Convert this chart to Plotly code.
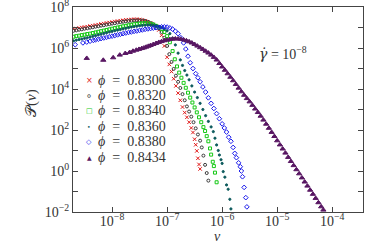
import plotly.graph_objects as go

# ---------------- data ((log10 v, log10 P)) ----------------
phi_labels = ["0.8300", "0.8320", "0.8340", "0.8360", "0.8380", "0.8434"]

phi_0830 = [(-8.70,6.93),(-8.65,6.95),(-8.60,6.97),(-8.55,7.00),(-8.50,7.02),(-8.45,7.04),(-8.40,7.07),
            (-8.35,7.09),(-8.30,7.12),(-8.25,7.14),(-8.20,7.17),(-8.15,7.19),(-8.10,7.22),(-8.05,7.24),
            (-8.00,7.26),(-7.95,7.29),(-7.90,7.31),(-7.85,7.33),(-7.80,7.35),(-7.75,7.37),(-7.70,7.38),
            (-7.65,7.39),(-7.60,7.40),(-7.55,7.40),(-7.50,7.39),(-7.45,7.37),(-7.40,7.33),(-7.35,7.28),
            (-7.30,7.22),(-7.25,7.14),(-7.20,7.05),(-7.15,6.88),(-7.10,6.62),(-7.05,6.10),(-7.00,5.55),
            (-6.96,5.20),(-6.92,4.85),(-6.88,4.50),(-6.84,4.15),(-6.80,3.80),(-6.76,3.45),(-6.72,3.12),
            (-6.68,2.85),(-6.64,2.62),(-6.60,2.38),(-6.56,2.10),(-6.53,1.88),(-6.50,1.55),(-6.48,1.28),
            (-6.46,0.98),(-6.44,0.62),(-6.42,0.32),(-6.40,0.10)]

phi_0832 = [(-8.70,6.84),(-8.65,6.86),(-8.60,6.89),(-8.55,6.91),(-8.50,6.94),(-8.45,6.96),(-8.40,6.99),
            (-8.35,7.01),(-8.30,7.04),(-8.25,7.06),(-8.20,7.09),(-8.15,7.11),(-8.10,7.14),(-8.05,7.16),
            (-8.00,7.19),(-7.95,7.21),(-7.90,7.24),(-7.85,7.26),(-7.80,7.28),(-7.75,7.30),(-7.70,7.32),
            (-7.65,7.33),(-7.60,7.34),(-7.55,7.35),(-7.50,7.35),(-7.45,7.34),(-7.40,7.32),(-7.35,7.28),
            (-7.30,7.22),(-7.25,7.16),(-7.20,7.08),(-7.15,6.96),(-7.10,6.78),(-7.05,6.50),(-7.00,6.10),
            (-6.96,5.70),(-6.92,5.32),(-6.88,4.98),(-6.84,4.65),(-6.80,4.35),(-6.76,4.05),(-6.72,3.75),
            (-6.68,3.45),(-6.64,3.15),(-6.60,2.90),(-6.56,2.65),(-6.52,2.38),(-6.48,2.08),(-6.44,1.78),
            (-6.40,1.48),(-6.37,1.15),(-6.34,0.75),(-6.31,0.30),(-6.28,-0.10),(-6.25,-0.47)]

phi_0834 = [(-8.70,6.55),(-8.65,6.58),(-8.60,6.60),(-8.55,6.63),(-8.50,6.65),(-8.45,6.68),(-8.40,6.70),
            (-8.35,6.73),(-8.30,6.76),(-8.25,6.79),(-8.20,6.82),(-8.15,6.85),(-8.10,6.88),(-8.05,6.91),
            (-8.00,6.94),(-7.95,6.97),(-7.90,7.00),(-7.85,7.03),(-7.80,7.06),(-7.75,7.08),(-7.70,7.11),
            (-7.65,7.13),(-7.60,7.16),(-7.55,7.17),(-7.50,7.19),(-7.45,7.20),(-7.40,7.21),(-7.35,7.20),
            (-7.30,7.18),(-7.25,7.14),(-7.20,7.08),(-7.15,7.01),(-7.10,6.92),(-7.05,6.78),(-7.00,6.58),
            (-6.95,6.28),(-6.90,5.85),(-6.86,5.45),(-6.82,5.10),(-6.78,4.80),(-6.74,4.55),(-6.70,4.30),
            (-6.66,4.06),(-6.62,3.82),(-6.58,3.58),(-6.54,3.34),(-6.50,3.10),(-6.46,2.86),(-6.42,2.62),
            (-6.38,2.38),(-6.34,2.14),(-6.31,1.95),(-6.28,1.70),(-6.25,1.45),(-6.22,1.10),(-6.20,0.80),
            (-6.17,0.45),(-6.15,0.24),(-6.13,-0.08),(-6.10,-0.55)]

phi_0836 = [(-8.70,6.35),(-8.65,6.38),(-8.60,6.41),(-8.55,6.44),(-8.50,6.47),(-8.45,6.50),(-8.40,6.53),
            (-8.35,6.57),(-8.30,6.60),(-8.25,6.64),(-8.20,6.67),(-8.15,6.71),(-8.10,6.74),(-8.05,6.78),
            (-8.00,6.81),(-7.95,6.84),(-7.90,6.87),(-7.85,6.90),(-7.80,6.93),(-7.75,6.96),(-7.70,6.99),
            (-7.65,7.02),(-7.60,7.04),(-7.55,7.06),(-7.50,7.08),(-7.45,7.10),(-7.40,7.11),(-7.35,7.12),
            (-7.30,7.12),(-7.25,7.11),(-7.20,7.09),(-7.15,7.05),(-7.10,7.00),(-7.05,6.93),(-7.00,6.84),
            (-6.95,6.70),(-6.90,6.48),(-6.85,6.15),(-6.80,5.75),(-6.76,5.42),(-6.72,5.15),(-6.68,4.90),
            (-6.64,4.68),(-6.60,4.45),(-6.55,4.15),(-6.50,3.85),(-6.45,3.58),(-6.40,3.30),(-6.35,3.00),
            (-6.30,2.70),(-6.25,2.42),(-6.20,2.15),(-6.16,1.92),(-6.13,1.60),(-6.10,1.27),(-6.07,1.00),
            (-6.05,0.78),(-6.02,0.55),(-6.00,0.37),(-5.98,-0.03),(-5.95,-0.30),(-5.92,-0.68),(-5.89,-0.89),
            (-5.86,-1.38),(-5.84,-1.85)]

phi_0838 = [(-8.67,6.16),(-8.53,6.25),(-8.46,6.29),(-8.40,6.33),(-8.34,6.37),(-8.30,6.40),(-8.25,6.43),
            (-8.20,6.46),(-8.15,6.49),(-8.10,6.52),(-8.05,6.55),(-8.00,6.58),(-7.95,6.61),(-7.90,6.64),
            (-7.85,6.67),(-7.80,6.70),(-7.75,6.73),(-7.70,6.76),(-7.65,6.78),(-7.60,6.81),(-7.55,6.83),
            (-7.50,6.86),(-7.45,6.88),(-7.40,6.91),(-7.35,6.93),(-7.30,6.95),(-7.25,6.97),(-7.20,6.99),
            (-7.15,7.01),(-7.10,7.03),(-7.05,7.03),(-7.00,7.02),(-6.95,6.98),(-6.90,6.92),(-6.85,6.82),
            (-6.80,6.70),(-6.75,6.50),(-6.70,6.25),(-6.66,5.95),(-6.62,5.60),(-6.58,5.28),(-6.53,5.00),
            (-6.48,4.75),(-6.44,4.55),(-6.40,4.35),(-6.35,4.10),(-6.30,3.85),(-6.25,3.57),(-6.20,3.30),
            (-6.15,3.05),(-6.10,2.80),(-6.05,2.55),(-6.00,2.30),(-5.96,2.10),(-5.92,1.90),(-5.88,1.65),
            (-5.84,1.45),(-5.80,1.15),(-5.77,0.86),(-5.74,0.65),(-5.70,0.40),(-5.67,0.21),(-5.65,0.00),
            (-5.63,-0.28),(-5.60,-0.80),(-5.57,-1.30),(-5.55,-1.75)]

phi_0843 = [(-8.46,5.50),(-8.16,5.41),(-7.98,5.53),(-7.86,5.66),(-7.76,5.74),(-7.68,5.79),(-7.62,5.85),
            (-7.56,5.90),(-7.51,5.94),(-7.46,5.98),(-7.42,6.01),(-7.38,6.05),(-7.34,6.09),(-7.30,6.13),
            (-7.25,6.18),(-7.20,6.23),(-7.15,6.28),(-7.10,6.32),(-7.05,6.36),(-7.00,6.39),(-6.95,6.42),
            (-6.90,6.44),(-6.85,6.45),(-6.80,6.45),(-6.75,6.43),(-6.70,6.40),(-6.65,6.36),(-6.60,6.31),
            (-6.55,6.25),(-6.50,6.18),(-6.45,6.10),(-6.40,6.02),(-6.35,5.94),(-6.30,5.85),(-6.25,5.76),
            (-6.20,5.66),(-6.15,5.55),(-6.10,5.42),(-6.05,5.25),(-6.00,5.08),(-5.95,4.92),(-5.90,4.75),
            (-5.85,4.58),(-5.80,4.41),(-5.75,4.23),(-5.70,4.05),(-5.65,3.87),(-5.60,3.70),(-5.55,3.54),
            (-5.50,3.38),(-5.45,3.21),(-5.40,3.03),(-5.35,2.86),(-5.30,2.68),(-5.25,2.49),(-5.20,2.29),
            (-5.15,2.09),(-5.10,1.89),(-5.05,1.69),(-5.00,1.48),(-4.95,1.28),(-4.90,1.08),(-4.85,0.88),
            (-4.80,0.67),(-4.75,0.47),(-4.70,0.27),(-4.65,0.07),(-4.60,-0.13),(-4.55,-0.33),(-4.50,-0.53),
            (-4.45,-0.73),(-4.40,-0.93),(-4.35,-1.13),(-4.30,-1.33),(-4.25,-1.54),(-4.20,-1.74),(-4.16,-1.90)]

x_tick_vals = [1e-8, 1e-7, 1e-6, 1e-5, 1e-4]
x_tick_text = ["10<sup>−8</sup>", "10<sup>−7</sup>", "10<sup>−6</sup>", "10<sup>−5</sup>", "10<sup>−4</sup>"]
y_tick_vals = [1e-2, 1e0, 1e2, 1e4, 1e6, 1e8]
y_tick_text = ["10<sup>−2</sup>", "10<sup>0</sup>", "10<sup>2</sup>", "10<sup>4</sup>",
               "10<sup>6</sup>", "10<sup>8</sup>"]
y_minor_vals = [1e-1, 1e1, 1e3, 1e5, 1e7]

# ---------------- styles ----------------
all_series = [phi_0830, phi_0832, phi_0834, phi_0836, phi_0838, phi_0843]
colors = ["rgb(225,25,25)", "#3a3a3a", "rgb(20,200,20)", "#0c5a5c", "rgb(25,25,235)", "rgb(88,22,98)"]
symbols = ["x-thin", "circle-open", "square-open", "circle", "diamond-open", "triangle-up"]
sizes = [3.5, 3, 3, 2.2, 3.6, 4.6]
legend_glyphs = ["×", "∘", "□", "•", "◇", "▲"]
glyph_sizes = [8, 10, 7, 6, 7, 6]

SERIF = "Liberation Serif, DejaVu Serif, serif"
INK = "#333333"

fig = go.Figure()
for data, col, sym, sz, lab in zip(all_series, colors, symbols, sizes, phi_labels):
    lv = [p[0] for p in data]
    lp = [p[1] for p in data]
    fig.add_trace(go.Scatter(
        x=[10 ** a for a in lv], y=[10 ** b for b in lp], mode="markers",
        name="ϕ = " + lab, showlegend=False,
        marker=dict(symbol=sym, size=sz, color=col,
                    line=dict(color=col, width=1)),
    ))

# plot-area geometry in pixels (for annotation placement)
W, H = 382, 243
L, R, T, B = 73, 19, 7, 31
pw, ph = W - L - R, H - T - B

def px(xp):
    return (xp - L) / pw

def py(yp):
    return (H - B - yp) / ph

annotations = []
row0, dy = 80, 15.4
for i, (lab, col, g, gs) in enumerate(zip(phi_labels, colors, legend_glyphs, glyph_sizes)):
    yy = py(row0 + i * dy)
    annotations.append(dict(x=px(89), y=yy, xref="paper", yref="paper", showarrow=False,
                            text=g, font=dict(family="DejaVu Sans", size=gs, color=col),
                            xanchor="center", yanchor="middle"))
    annotations.append(dict(x=px(96), y=yy, xref="paper", yref="paper", showarrow=False,
                            text="<i>ϕ</i>\u2002=\u2002" + lab,
                            font=dict(family=SERIF, size=14, color=INK),
                            xanchor="left", yanchor="middle"))

annotations.append(dict(x=px(283), y=py(53), xref="paper", yref="paper", showarrow=False,
                        text="<span style='font-family:DejaVu Serif'><i>γ̇</i></span> = 10<sup>−8</sup>",
                        font=dict(family=SERIF, size=14, color=INK),
                        xanchor="center", yanchor="middle"))

# axis titles placed like the reference
annotations.append(dict(x=px(217), y=py(236.5), xref="paper", yref="paper", showarrow=False,
                        text="<i>v</i>", font=dict(family=SERIF, size=14, color=INK),
                        xanchor="center", yanchor="middle"))
annotations.append(dict(x=px(31), y=py(103), xref="paper", yref="paper", showarrow=False,
                        text="𝒫(<i>v</i>)", textangle=-90,
                        font=dict(family=SERIF, size=15, color=INK),
                        xanchor="center", yanchor="middle"))

axis_common = dict(type="log", showgrid=False, zeroline=False, showline=True, automargin=False,
                   linecolor="#444444", linewidth=1, mirror="ticks", ticks="inside",
                   ticklen=5, tickcolor="#444444", tickwidth=1, ticklabeloverflow="allow",
                   tickfont=dict(family=SERIF, size=14, color=INK))

fig.update_layout(
    width=W, height=H,
    margin=dict(l=L, r=R, t=T, b=B, pad=0, autoexpand=False),
    paper_bgcolor="white", plot_bgcolor="white",
    xaxis=dict(range=[-8.71, -3.44], tickvals=x_tick_vals, ticktext=x_tick_text,
               ticklabelstandoff=-4, **axis_common),
    yaxis=dict(range=[-2, 8], tickvals=y_tick_vals, ticktext=y_tick_text,
               minor=dict(tickvals=y_minor_vals, ticks="inside", ticklen=5,
                          tickcolor="#444444", tickwidth=1),
               **axis_common),
    annotations=annotations,
)

# the page's default body margin would shift the figure by 8 px; remove it
fig.write_html("out.html", config={"displayModeBar": False},
               post_script="document.body.style.margin='0';document.body.style.overflow='hidden';")
